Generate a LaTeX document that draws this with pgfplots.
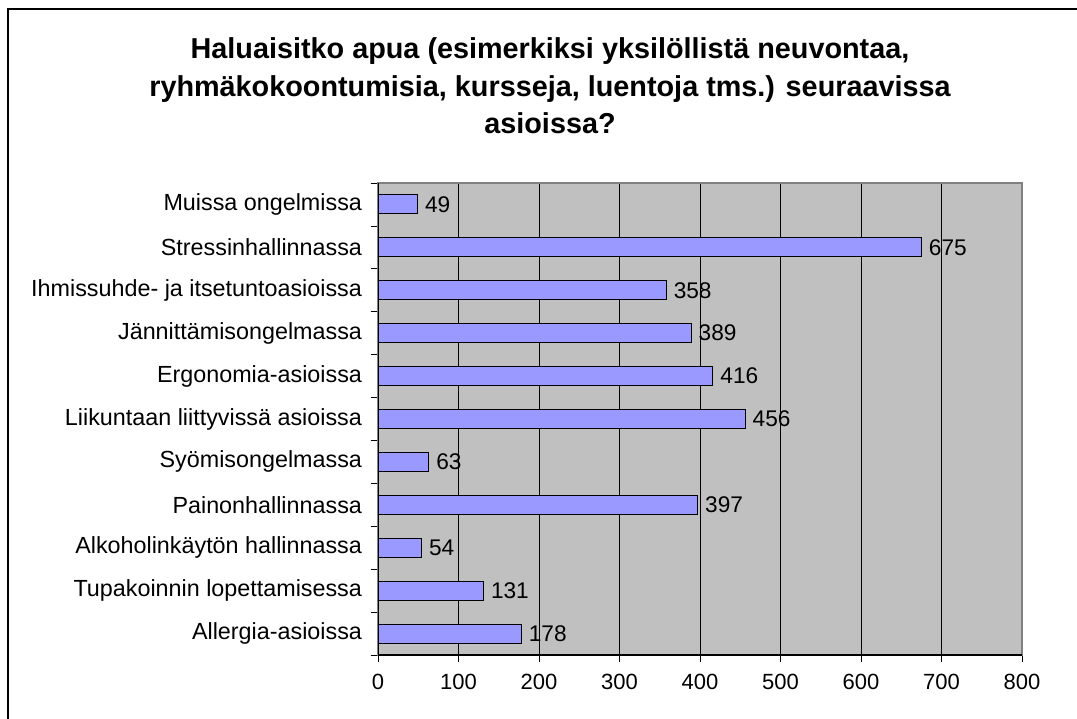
\documentclass[border=0pt]{standalone}
\usepackage{pgfplots}
\pgfplotsset{compat=1.18}
\usepackage{fontspec}
\setmainfont{Liberation Sans}
\definecolor{plotgray}{HTML}{C0C0C0}
\definecolor{barblue}{HTML}{9999FF}
\definecolor{frameg}{HTML}{808080}
\begin{document}
\begin{tikzpicture}
\path[use as bounding box] (0pt,0pt) rectangle (807.75pt,-538.5pt);
\draw[line width=1.6pt] (6.2pt,-7pt) rectangle (812pt,-545pt);
\node[align=center, font=\bfseries\fontsize{21.6}{28}\selectfont] at (412.5pt,-64.5pt)
  {Haluaisitko apua (esimerkiksi yksilöllistä neuvontaa,\\ryhmäkokoontumisia, kursseja, luentoja tms.) seuraavissa\\asioissa?};
\begin{axis}[
  at={(283.5pt,-491.25pt)}, anchor=south west,
  scale only axis, width=483pt, height=354pt,
  xmin=0, xmax=800, ymin=-0.5, ymax=10.5,
  axis background/.style={fill=plotgray},
  axis line style={frameg, line width=0.8pt},
  xbar, bar width=14.25pt,
  xtick={0,100,...,800},
  ytick={-0.5,0.5,...,10.5},
  y tick label as interval,
  yticklabels={Allergia-asioissa,Tupakoinnin lopettamisessa,Alkoholinkäytön hallinnassa,Painonhallinnassa,Syömisongelmassa,Liikuntaan liittyvissä asioissa,Ergonomia-asioissa,Jännittämisongelmassa,Ihmissuhde- ja itsetuntoasioissa,Stressinhallinnassa,Muissa ongelmissa},
  tick pos=left, tick align=outside,
  major tick length=5.5pt,
  tick style={black, line width=0.6pt},
  xmajorgrids, major grid style={black, line width=0.6pt},
  xticklabel style={font=\fontsize{16.5}{19}\selectfont, yshift=-5pt},
  yticklabel style={font=\fontsize{17.5}{20}\selectfont, xshift=-3pt},
  /pgf/number format/assume math mode=true,
  nodes near coords,
  every node near coord/.append style={anchor=west, font=\fontsize{17}{20}\selectfont, black, xshift=2pt},
]
\addplot[fill=barblue, draw=black, line width=0.7pt] coordinates {
(178,0) (131,1) (54,2) (397,3) (63,4) (456,5) (416,6) (389,7) (358,8) (675,9) (49,10)};
\draw[black, line width=0.8pt] (rel axis cs:0,1) -- (rel axis cs:0,0) -- (rel axis cs:1,0);
\end{axis}
\end{tikzpicture}
\end{document}
